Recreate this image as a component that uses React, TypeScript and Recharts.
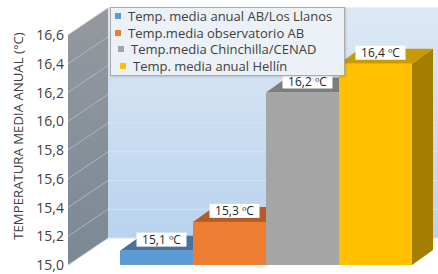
import { Bar, BarChart, CartesianGrid, LabelList, Legend, ReferenceArea, XAxis, YAxis } from "recharts";

const categories = [""];
const seriesKeys = ["llanos", "observatorio", "chinchilla", "hellin"];
const seriesNames = [
  "Temp. media anual AB/Los Llanos",
  "Temp.media observatorio AB",
  "Temp.media Chinchilla/CENAD",
  "Temp. media anual Hellín",
];
const seriesValues = [15.1, 15.3, 16.2, 16.4];
const yTicks = [15.0, 15.2, 15.4, 15.6, 15.8, 16.0, 16.2, 16.4, 16.6];

const frontColors = ["#5b9bd5", "#ed7d31", "#a5a5a5", "#ffc000"];
const topColors = ["#44739f", "#b65b27", "#7d7d7d", "#c89a03"];
const sideColors = ["#3a6590", "#a04d1c", "#6f6f6f", "#a57e00"];
const legendIndent = [0, 0, 3, 5];

const W = 438;
const H = 274;
const Y_AXIS_W = 68;
const WALL_DX = 40;
const WALL_DY = -27;
const BAR_DX = 21;
const BAR_DY = -15;
const FONT = "'Open Sans', 'Noto Sans', sans-serif";

const data = categories.map((name) => {
  const row: Record<string, string | number> = { name };
  seriesKeys.forEach((k, i) => (row[k] = seriesValues[i]));
  return row;
});

const fmt = (v: number) => v.toFixed(1).replace(".", ",");

// paredes del "3D": lateral gris + fondo azul
function Walls(p: any) {
  const { y, height } = p;
  const L = Y_AXIS_W;
  const bx = L + WALL_DX;
  return (
    <g>
      <polygon
        points={`${L},${y + height} ${L},${y} ${bx},${y + WALL_DY} ${bx},${y + height + WALL_DY}`}
        fill="url(#sideWall)"
      />
      <rect x={bx} y={y + WALL_DY} width={W - bx} height={height} fill="url(#backWall)" />
    </g>
  );
}

function GridLine(p: any) {
  const { x1, y1, x2 } = p;
  const bx = x1 + WALL_DX;
  const by = y1 + WALL_DY;
  return (
    <g key={p.key}>
      <line x1={x1} y1={y1} x2={bx} y2={by} stroke="#b9c0c7" strokeWidth={0.8} />
      <line x1={bx} y1={by} x2={x2} y2={by} stroke="#d6e4f3" strokeWidth={1} />
    </g>
  );
}

function make3DBar(i: number) {
  return (p: any) => {
    const { x, y, width, height } = p;
    if (height == null || width == null) return null;
    const b = y + height;
    return (
      <g>
        <polygon
          points={`${x + width},${y} ${x + width + BAR_DX},${y + BAR_DY} ${x + width + BAR_DX},${b + BAR_DY} ${x + width},${b}`}
          fill={sideColors[i]}
        />
        <polygon
          points={`${x},${y} ${x + width},${y} ${x + width + BAR_DX},${y + BAR_DY} ${x + BAR_DX},${y + BAR_DY}`}
          fill={topColors[i]}
        />
        <rect x={x} y={y} width={width} height={height} fill={frontColors[i]} />
      </g>
    );
  };
}

function ValueLabel(p: any) {
  const vb = p.viewBox ?? p;
  const cx = vb.x + vb.width / 2 + 5;
  const cy = vb.y - 11;
  const w = 50;
  const h = 14;
  return (
    <g>
      <rect x={cx - w / 2} y={cy - h / 2} width={w} height={h} fill="#ffffff" />
      <text x={cx} y={cy} dy={4.2} textAnchor="middle" fontFamily={FONT} fontSize={12} fill="#262626">
        {fmt(Number(p.value))} ºC
      </text>
    </g>
  );
}

function YTick(p: any) {
  const { x, y, payload } = p;
  return (
    <text x={x} y={y} dy={5} textAnchor="end" fontFamily={FONT} fontSize={14} fill="#404040">
      {fmt(payload.value)}
    </text>
  );
}

function YLabel(p: any) {
  const vb = p.viewBox;
  const cx = 18;
  const cy = vb.y + vb.height / 2 - 14;
  return (
    <text
      x={cx}
      y={cy}
      transform={`rotate(-90 ${cx} ${cy})`}
      textAnchor="middle"
      dominantBaseline="central"
      fontFamily={FONT}
      fontSize={13.2}
      fill="#404040"
    >
      TEMPERATURA MEDIA ANUAL (°C)
    </text>
  );
}

function LegendBox(p: any) {
  const items = [...(p.payload ?? [])].sort(
    (a: any, b: any) => seriesNames.indexOf(a.value) - seriesNames.indexOf(b.value)
  );
  return (
    <div
      style={{
        border: "1px solid #a9a9a9",
        background: "rgba(236,241,246,0.95)",
        boxShadow: "1px 1px 2px rgba(0,0,0,0.15)",
        padding: "0 12px 1px 4px",
        fontFamily: FONT,
        fontSize: 13,
        color: "#404040",
        whiteSpace: "nowrap",
      }}
    >
      {items.map((e: any, i: number) => (
        <div key={i} style={{ display: "flex", alignItems: "center", height: 16.5, paddingLeft: legendIndent[i] }}>
          <span style={{ width: 6, height: 6, background: e.color, marginRight: 7, display: "inline-block" }} />
          {e.value}
        </div>
      ))}
    </div>
  );
}

export default function App() {
  return (
    <div style={{ width: W, height: H, position: "relative" }}>
      <style>{`body{margin:0;background:#fff}`}</style>
      <BarChart
        width={W}
        height={H}
        data={data}
        margin={{ top: 35, right: 0, bottom: 9, left: 0 }}
        barCategoryGap={0}
        barGap={0}
      >
        <defs>
          <linearGradient id="sideWall" x1="0" y1="0" x2="0" y2="1">
            <stop offset="0%" stopColor="#95999e" />
            <stop offset="100%" stopColor="#7b8895" />
          </linearGradient>
          <linearGradient id="backWall" x1="0" y1="0" x2="0" y2="1">
            <stop offset="0%" stopColor="#dde8f4" />
            <stop offset="100%" stopColor="#b9d3ee" />
          </linearGradient>
        </defs>
        <ReferenceArea y1={15} y2={16.6} shape={Walls} ifOverflow="visible" zIndex={-200} />
        <CartesianGrid vertical={false} horizontal={GridLine} />
        <XAxis dataKey="name" hide padding={{ left: 52, right: 26 }} />
        <YAxis
          domain={[15, 16.6]}
          ticks={yTicks}
          allowDataOverflow
          width={Y_AXIS_W}
          axisLine={false}
          tickLine={false}
          tickSize={4}
          tickMargin={0}
          tick={YTick}
          label={{ content: YLabel }}
        />
        <Legend
          layout="vertical"
          align="center"
          verticalAlign="middle"
          content={LegendBox}
          wrapperStyle={{ position: "absolute", top: 7, left: 110, width: "auto", height: "auto" }}
        />
        {seriesKeys.map((k, i) => (
          <Bar
            key={k}
            dataKey={k}
            name={seriesNames[i]}
            fill={frontColors[i]}
            shape={make3DBar(i)}
            isAnimationActive={false}
          >
            <LabelList dataKey={k} content={ValueLabel} />
          </Bar>
        ))}
      </BarChart>
    </div>
  );
}
